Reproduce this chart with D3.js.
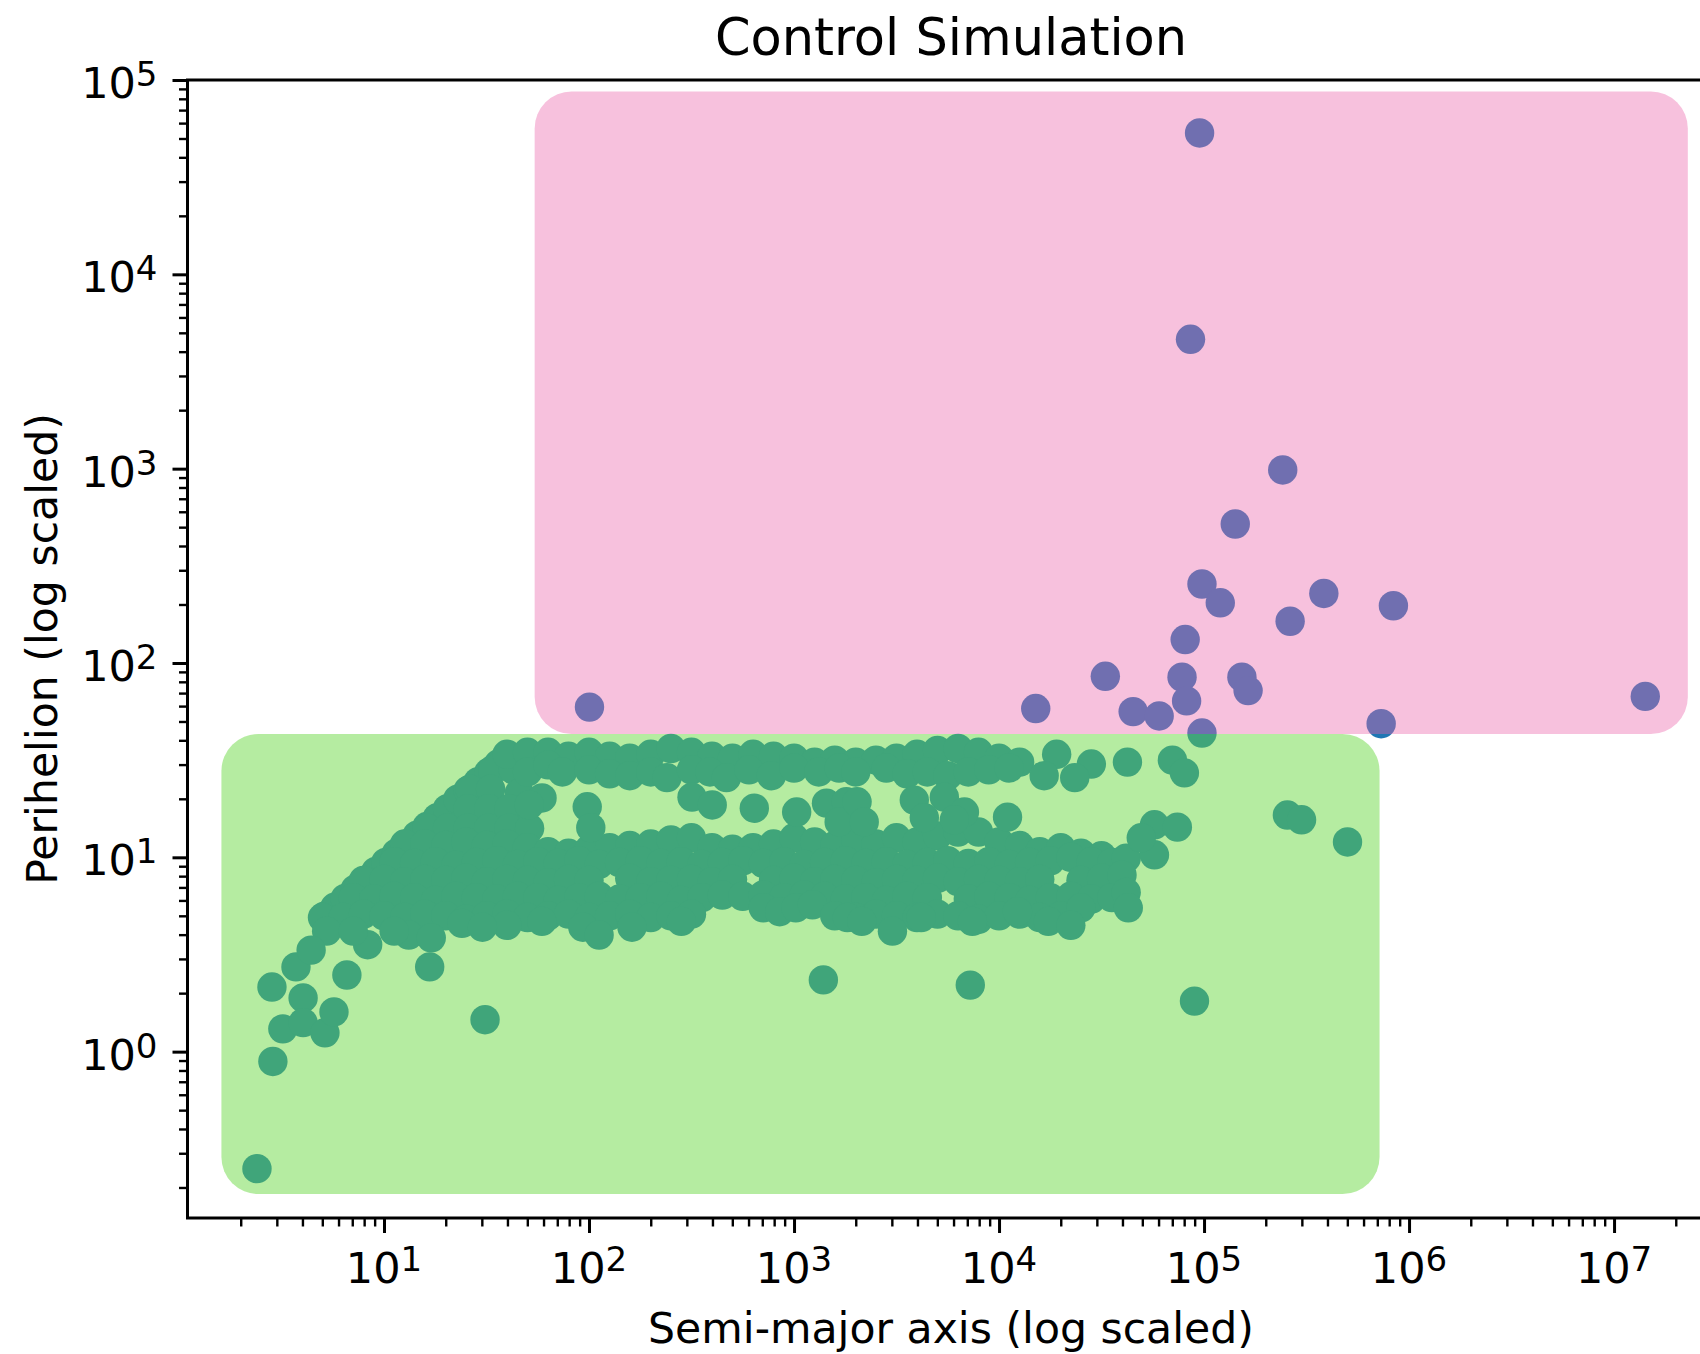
<!DOCTYPE html>
<html><head><meta charset="utf-8">
<script src="https://cdn.jsdelivr.net/npm/d3@7"></script>
<style>
body{margin:0;background:#fff;}
svg text{font-family:"DejaVu Sans",sans-serif;fill:#000;}
</style></head><body>
<svg id="chart" width="1700" height="1354"></svg>
<script>
// ---------------- data ----------------
const chartTitle = "Control Simulation";
const xLabel = "Semi-major axis (log scaled)";
const yLabel = "Perihelion (log scaled)";
const xTickExponents = [1, 2, 3, 4, 5, 6, 7];
const yTickExponents = [0, 1, 2, 3, 4, 5];
const xDomain = [1.1, 3.09e7];
const yDomain = [0.1393, 1e5];
// highlighted regions: [aMin, aMax, qMin, qMax]
const innerRegion = [1.61, 7.18e5, 0.185, 43.1];
const outerRegion = [54.3, 2.29e7, 43.1, 8.73e4];

// detached / outer objects [a, q]
const outerObjects = [
  [9.51e4, 5.34e4], [8.59e4, 4630], [2.42e5, 985], [1.42e5, 519], [9.77e4, 255],
  [1.20e5, 204], [3.84e5, 228], [8.39e5, 197], [2.63e5, 164], [8.09e4, 132],
  [3.30e4, 85.4], [7.81e4, 84.5], [1.53e5, 84.5], [1.64e5, 72.1], [8.22e4, 63.8],
  [100.5, 59.3], [1.51e4, 58.3], [4.51e4, 56.2], [6.04e4, 53.4], [1.42e7, 67.3],
  [7.31e5, 48.7], [9.77e4, 43.6]
];

// inner objects [a, q]
const innerObjects = [
  // upper-left edge of the cloud
  [5.13,4.98],[5.75,5.53],[6.46,6.15],[7.24,6.85],[8.13,7.62],[9.12,8.47],[10.2,9.42],
  [11.5,10.5],[12.9,11.7],[14.5,13.0],[16.2,14.4],[18.2,16.0],[20.4,17.8],[22.9,19.9],
  [25.7,22.1],[28.8,24.5],[32.4,27.3],[36.3,30.3],[39.8,33.0],
  [33.9,28.2],[42.7,28.2],
  [26.3,22.4],[33.1,22.4],[45.7,21.4],
  [25.7,17.8],[32.4,17.8],[40.7,17.8],
  [16.2,14.1],[20.4,14.1],[25.7,14.1],[32.4,14.1],[40.7,14.1],[51.3,14.1],
  // upper band
  [39.8,33.9],[50.1,34.7],[63.1,34.7],[79.4,33.1],[100,34.7],[126,33.1],[158,32.4],
  [200,33.9],[251,36.3],[316,34.7],[398,33.1],[501,32.4],[631,33.9],[794,33.1],
  [1000,32.4],[1260,30.9],[1580,31.6],[2000,30.9],[2510,31.6],[3160,32.4],[3980,33.9],
  [5010,35.5],[6310,36.3],[7940,34.7],[1.0e4,32.4],[1.26e4,30.9],[1.91e4,33.9],[2.82e4,30.2],
  [50.1,27.5],[63.1,29.9],[74.1,27.5],[100,28.2],[126,26.9],[158,26.3],[200,27.5],
  [240,25.7],[316,28.2],[389,27.5],[468,25.7],[603,28.2],[776,26.3],[1000,28.8],
  [1320,27.5],[1660,28.8],[2000,27.5],[2820,28.8],[3550,26.9],[4470,27.5],[5620,26.3],
  [7080,27.5],[8910,28.2],[1.12e4,28.8],[1.66e4,26.3],[2.34e4,25.7],
  // lower band, row 1
  [12.6,11.7],[15.8,11.7],[20.0,11.5],[25.1,12.0],[31.6,11.5],[39.8,11.7],[50.1,11.2],
  [63.1,10.7],[79.4,10.5],[100,11.0],[126,11.2],[158,11.5],[200,11.7],[251,12.3],
  [316,12.6],[398,11.2],[501,11.0],[631,11.2],[794,11.7],[1000,12.6],[1260,12.0],
  [1580,11.5],[2000,12.3],[2510,11.7],[3160,12.6],[3980,12.0],[5010,12.9],[6310,13.5],
  [7940,13.5],[1.0e4,12.0],[1.26e4,11.5],[1.58e4,10.7],[2.0e4,11.2],[2.51e4,10.5],[3.16e4,10.2],
  // row 2
  [11.2,9.5],[14.1,9.3],[17.8,9.5],[22.4,9.1],[28.2,9.4],[35.5,9.6],[44.7,9.2],
  [56.2,9.5],[70.8,9.3],[89.1,9.6],[112,9.2],[141,9.4],[178,9.6],[224,9.3],
  [282,9.5],[355,9.2],[447,9.4],[562,9.6],[708,9.3],[891,9.5],[1120,9.2],
  [1410,9.4],[1780,9.6],[2240,9.3],[2820,9.5],[3550,9.2],[4470,9.4],[5620,9.6],
  [7080,9.3],[8910,9.5],[1.12e4,9.2],[1.41e4,9.4],[1.78e4,9.6],[2.24e4,10.0],
  [2.82e4,9.5],[3.55e4,9.4],[4.17e4,9.9],
  // row 3
  [7.94,7.6],[10,7.7],[12.6,7.5],[15.8,7.7],[20.0,7.6],[25.1,7.8],[31.6,7.5],
  [39.8,7.7],[50.1,7.6],[63.1,7.4],[79.4,7.7],[100,7.6],[158,7.8],[200,7.5],
  [251,7.6],[316,7.7],[398,7.5],[501,7.7],[794,7.6],[1000,7.8],[1260,7.5],
  [1580,7.7],[2000,7.6],[2510,7.4],[3160,7.7],[3980,7.6],[5010,7.8],[6310,7.5],
  [7940,7.7],[1.0e4,7.6],[1.26e4,7.5],[1.58e4,7.7],[2.51e4,7.6],[3.16e4,7.8],[3.98e4,8.1],
  // row 4
  [7.08,6.2],[8.91,6.1],[11.2,6.3],[14.1,6.2],[17.8,6.0],[22.4,6.3],[28.2,6.2],
  [35.5,6.1],[44.7,6.3],[56.2,6.2],[70.8,6.0],[89.1,6.2],[112,6.3],[141,6.1],
  [178,6.2],[224,6.3],[282,6.0],[355,6.2],[447,6.4],[562,6.3],[708,6.4],
  [891,6.2],[1120,6.4],[1410,6.3],[1780,6.1],[2240,6.2],[2820,6.0],[3550,6.3],
  [4470,6.2],[7080,6.1],[8910,6.3],[1.12e4,6.2],[1.41e4,6.0],[1.78e4,6.2],
  [2.24e4,6.3],[2.82e4,6.1],[3.55e4,6.2],[4.17e4,6.6],
  // row 5
  [5.01,4.9],[6.31,4.9],[7.94,5.1],[10,5.0],[12.6,4.9],[15.8,5.1],[20.0,5.0],
  [25.1,4.8],[31.6,5.0],[39.8,5.1],[50.1,4.9],[63.1,5.0],[79.4,5.1],[100,4.9],
  [126,5.0],[158,5.1],[200,4.9],[251,5.0],[316,5.1],[708,5.5],[851,5.25],
  [1020,5.5],[1230,5.7],[1580,5.0],[2000,4.9],[2510,5.1],[3160,5.0],[3980,4.9],
  [5010,5.1],[6310,5.0],[7940,4.8],[1.0e4,5.0],[1.26e4,5.1],[1.58e4,4.9],
  [2.0e4,5.0],[2.51e4,5.5],[4.27e4,5.5],
  // lower edge
  [8.32,3.55],[13.2,3.98],[17.0,3.85],[24.0,4.57],[39.8,4.47],[58.9,4.68],[93.3,4.37],
  [112,3.98],[162,4.37],[282,4.68],[1820,4.90],[2140,4.68],[3020,4.17],[4170,4.90],
  [7410,4.68],[1.23e4,5.25],[1.74e4,4.68],[2.24e4,4.47],[11.2,4.17],[30.2,4.37],
  [5.25,4.17],[7.08,4.17],
  // between the bands
  [59.0,20.2],[51.1,18.6],[98.0,18.2],[102,14.2],[318,20.4],[399,18.6],[640,17.9],
  [1030,17.1],[1440,19.0],[1800,19.3],[1660,15.2],[2030,19.3],[2200,15.2],
  [3860,19.7],[5410,20.4],[6780,17.1],[4320,16.0],[6050,15.6],[1.10e4,16.1],
  // right side
  [4.23e4,30.9],[7.01e4,31.6],[8.02e4,27.2],[5.73e4,14.7],[7.41e4,14.3],
  [5.73e4,10.3],[4.94e4,12.6],
  [2.55e5,16.5],[2.99e5,15.6],[5.01e5,12.0],
  // scattered low
  [2.84,2.15],[3.72,2.73],[4.41,3.33],[4.03,1.89],[3.21,1.31],[4.03,1.41],
  [5.15,1.25],[5.70,1.60],[6.59,2.48],[2.87,0.89],[2.40,0.25],[16.7,2.73],
  [31.1,1.46],[1390,2.34],[7240,2.20],[8.98e4,1.82]
];

(function () {
// ---------------- drawing ----------------
const mLeft = 187.5, mRight = 1714.5, mTop = 80, mBottom = 1218;
const svg = d3.select("#chart");

const x = d3.scaleLog().domain(xDomain).range([mLeft, mRight]);
const y = d3.scaleLog().domain(yDomain).range([mBottom, mTop]);

const dotColor = "#1f77b4";
const R = 14.7;

// points
const allPts = innerObjects.concat(outerObjects);
svg.append("g").selectAll("circle").data(allPts).join("circle")
  .attr("cx", d => x(d[0])).attr("cy", d => y(d[1])).attr("r", R)
  .attr("fill", dotColor);

// region boxes drawn on top, translucent
function box(region, fill, op) {
  const x0 = x(region[0]), x1 = x(region[1]);
  const y0 = y(region[3]), y1 = y(region[2]);
  svg.append("rect").attr("x", x0).attr("y", y0)
    .attr("width", x1 - x0).attr("height", y1 - y0)
    .attr("rx", 37).attr("ry", 37)
    .attr("fill", fill).attr("fill-opacity", op);
}
box(innerRegion, "rgb(101,215,59)", 0.48);
box(outerRegion, "rgb(235,100,170)", 0.4);

// axes
const isMajor = v => Math.abs(Math.log10(v) - Math.round(Math.log10(v))) < 1e-6;
const xMinor = x.ticks().filter(v => !isMajor(v));
const yMinor = y.ticks().filter(v => !isMajor(v));
const xMajor = xTickExponents.map(e => Math.pow(10, e));
const yMajor = yTickExponents.map(e => Math.pow(10, e));

function styleAxis(g, w) {
  g.selectAll("line").attr("stroke", "#000").attr("stroke-width", w);
  g.select(".domain").remove();
}
const gxMaj = svg.append("g").attr("transform", `translate(0,${mBottom})`)
  .call(d3.axisBottom(x).tickValues(xMajor).tickSize(15).tickFormat(() => ""));
styleAxis(gxMaj, 3);
const gxMin = svg.append("g").attr("transform", `translate(0,${mBottom})`)
  .call(d3.axisBottom(x).tickValues(xMinor).tickSize(8.5).tickFormat(() => ""));
styleAxis(gxMin, 2.4);
const gyMaj = svg.append("g").attr("transform", `translate(${mLeft},0)`)
  .call(d3.axisLeft(y).tickValues(yMajor).tickSize(15).tickFormat(() => ""));
styleAxis(gyMaj, 3);
const gyMin = svg.append("g").attr("transform", `translate(${mLeft},0)`)
  .call(d3.axisLeft(y).tickValues(yMinor).tickSize(8.5).tickFormat(() => ""));
styleAxis(gyMin, 2.4);

// spines
svg.append("rect").attr("x", mLeft).attr("y", mTop)
  .attr("width", mRight - mLeft).attr("height", mBottom - mTop)
  .attr("fill", "none").attr("stroke", "#000").attr("stroke-width", 3);

// tick labels
function supText(sel, e) {
  sel.append("tspan").text("10");
  sel.append("tspan").attr("dy", -12).attr("font-size", 34).text(e);
}
xTickExponents.forEach(e => {
  const t = svg.append("text").attr("x", x(Math.pow(10, e))).attr("y", mBottom + 65)
    .attr("text-anchor", "middle").attr("font-size", 43);
  supText(t, e);
});
yTickExponents.forEach(e => {
  const t = svg.append("text").attr("x", mLeft - 30).attr("y", y(Math.pow(10, e)) + 18)
    .attr("text-anchor", "end").attr("font-size", 43);
  supText(t, e);
});

// titles
svg.append("text").attr("x", (mLeft + mRight) / 2).attr("y", 55)
  .attr("text-anchor", "middle").attr("font-size", 51).text(chartTitle);
svg.append("text").attr("x", (mLeft + mRight) / 2).attr("y", 1343)
  .attr("text-anchor", "middle").attr("font-size", 42.6).text(xLabel);
svg.append("text").attr("transform", `translate(56.5,${(mTop + mBottom) / 2}) rotate(-90)`)
  .attr("text-anchor", "middle").attr("font-size", 42.6).text(yLabel);
})();
</script>
</body></html>
